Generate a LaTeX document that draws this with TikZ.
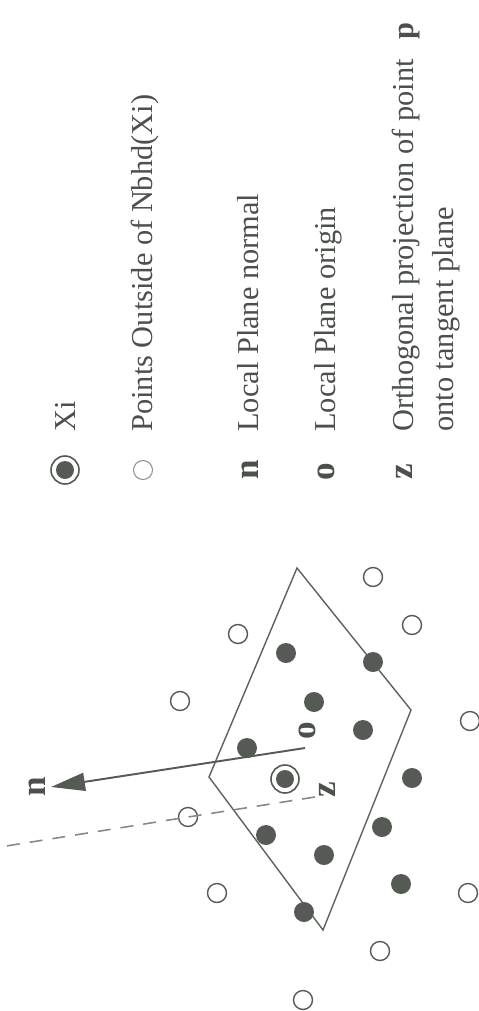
\documentclass[tikz,border=0pt]{standalone}
\usepackage{fontspec}
\setmainfont{Liberation Serif}
\usetikzlibrary{arrows.meta}
\definecolor{Ink}{HTML}{4B504B}
\definecolor{Dot}{HTML}{555A55}
\definecolor{Edge}{HTML}{5E615E}
\definecolor{Dash}{HTML}{858885}
\definecolor{Faint}{HTML}{8E918E}

\begin{document}
\begin{tikzpicture}[
  x=0.02cm, y=-0.02cm,
  inside/.style={circle, fill=Dot, minimum size=0.4cm, inner sep=0pt},
  outside/.style={circle, draw=Dot, line width=0.8pt, minimum size=0.38cm, inner sep=0pt},
  ring/.style={circle, draw=Dot, line width=0.9pt, fill=white, minimum size=0.56cm, inner sep=0pt},
  core/.style={inside, minimum size=0.36cm},
  plane/.style={draw=Edge, line width=0.8pt, line join=miter},
  normal/.style={-{Triangle[length=0.68cm, width=0.36cm]}, draw=Dot, line width=1.1pt},
  proj/.style={draw=Dash, line width=0.9pt, dash pattern=on 0.26cm off 0.2cm},
  legtext/.style={rotate=90, anchor=base west, inner sep=0pt, text=Ink, font=\fontsize{17.3}{20}\selectfont},
  letter/.style={rotate=90, inner sep=0pt, text=Ink, font=\fontsize{20}{24}\selectfont\bfseries}
]
  \useasboundingbox (0,0) rectangle (478,1011);

  % legend
  \node[ring] (keyxi) at (65,470) {};
  \node[core] (keyxicore) at (keyxi) {};
  \node[outside, draw=Faint, line width=0.6pt] (keyout) at (143,470) {};
  \node[letter] (keyn) at (250,470) {n};
  \node[letter] (keyo) at (326,472) {o};
  \node[letter] (keyz) at (404,472) {z};
  \node[legtext] (txtxi) at (75,432) {Xi};
  \node[legtext] (txtout) at (152,432) {Points Outside of Nbhd(Xi)};
  \node[legtext] (txtn) at (258,432) {Local Plane normal};
  \node[legtext] (txto) at (335,432) {Local Plane origin};
  \node[legtext] (txtz) at (413,432) {Orthogonal projection of point\hspace{0.65em}\textbf{p}};
  \node[legtext] (txtz2) at (453,432) {onto tangent plane};

  % tangent plane
  \coordinate (top) at (297,568);
  \coordinate (right) at (411,710);
  \coordinate (bottom) at (323,930);
  \coordinate (left) at (209,777);
  \draw[plane] (top) -- (right) -- (bottom) -- (left) -- cycle;

  % points of the neighbourhood
  \foreach \px/\py [count=\k] in {286/653, 373/662, 314/702, 363/730, 247/748,
      412/778, 382/827, 266/835, 324/855, 401/884, 304/912}
    \node[inside] (in\k) at (\px,\py) {};
  \node[ring] (xi) at (285,779) {};
  \node[core] (xicore) at (xi) {};

  % points outside
  \foreach \px/\py [count=\k] in {238/634, 373/577, 412/625, 180/701, 470/721,
      217/893, 468/893, 380/951, 303/1000}
    \node[outside] (out\k) at (\px,\py) {};
  \node[outside] (p) at (188,817) {};

  % normal and projection
  \coordinate (o) at (305,748);
  \coordinate (ntip) at (51,787);
  \coordinate (zfoot) at (315,797);
  \coordinate (far) at (0,847);
  \draw[normal] (o) -- (ntip);
  \draw[proj] (zfoot) -- (p.center) -- (far);
  \node[letter] (nlabel) at (37,787) {n};
  \node[letter] (olabel) at (307,731) {o};
  \node[letter] (zlabel) at (327,790) {z};
\end{tikzpicture}
\end{document}
